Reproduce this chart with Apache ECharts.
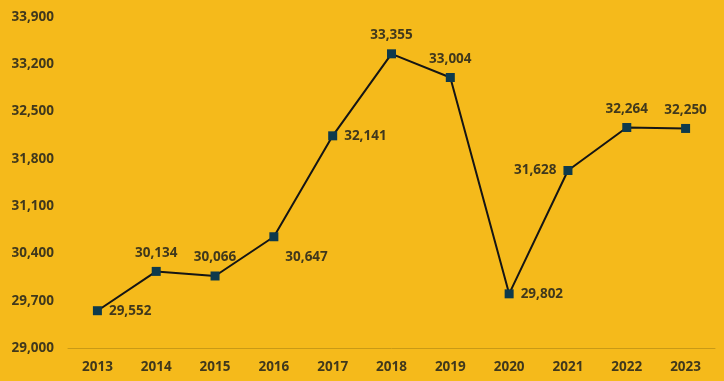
<!DOCTYPE html>
<html><head><meta charset="utf-8">
<script src="https://cdn.jsdelivr.net/npm/echarts@6/dist/echarts.min.js"></script>
<style>html,body{margin:0;padding:0;background:#F5BA1B;}#c{width:724px;height:381px;}</style>
</head><body><div id="c"></div>
<script>
const categories = ['2013','2014','2015','2016','2017','2018','2019','2020','2021','2022','2023'];
const values = [29552,30134,30066,30647,32141,33355,33004,29802,31628,32264,32250];
const labelPositions = ['right','top','top','right','right','top','top','right','left','top','top'];
const fontFam = '"Open Sans", Lato, sans-serif';
const txt = '#40381C';
const chart = echarts.init(document.getElementById('c'));
chart.setOption({
  backgroundColor: '#F5BA1B',
  animation: false,
  grid: {left: 68, right: 9, top: 17, bottom: 33},
  xAxis: {
    type: 'category', data: categories, boundaryGap: true,
    axisLine: {lineStyle: {color: '#C99A16', width: 1}},
    axisTick: {show: false},
    axisLabel: {color: txt, fontFamily: fontFam, fontWeight: 'bold', fontSize: 13.5, margin: 12}
  },
  yAxis: {
    type: 'value', min: 29000, max: 33900, interval: 700,
    splitLine: {show: false}, axisLine: {show: false}, axisTick: {show: false},
    axisLabel: {color: txt, fontFamily: fontFam, fontWeight: 'bold', fontSize: 13.5, margin: 14,
      formatter: v => v.toLocaleString('en-US')}
  },
  series: [{
    type: 'line', symbol: 'rect', symbolSize: 9,
    lineStyle: {color: '#151515', width: 2},
    itemStyle: {color: '#0E3A4C'},
    data: values.map((v, i) => ({
      value: v,
      label: {position: labelPositions[i], offset: i === 3 ? [0, 20] : [0, 0]}
    })),
    label: {show: true, color: txt, fontFamily: fontFam, fontWeight: 'bold', fontSize: 13.5, distance: 7,
      formatter: p => p.value.toLocaleString('en-US')}
  }]
});
</script></body></html>
